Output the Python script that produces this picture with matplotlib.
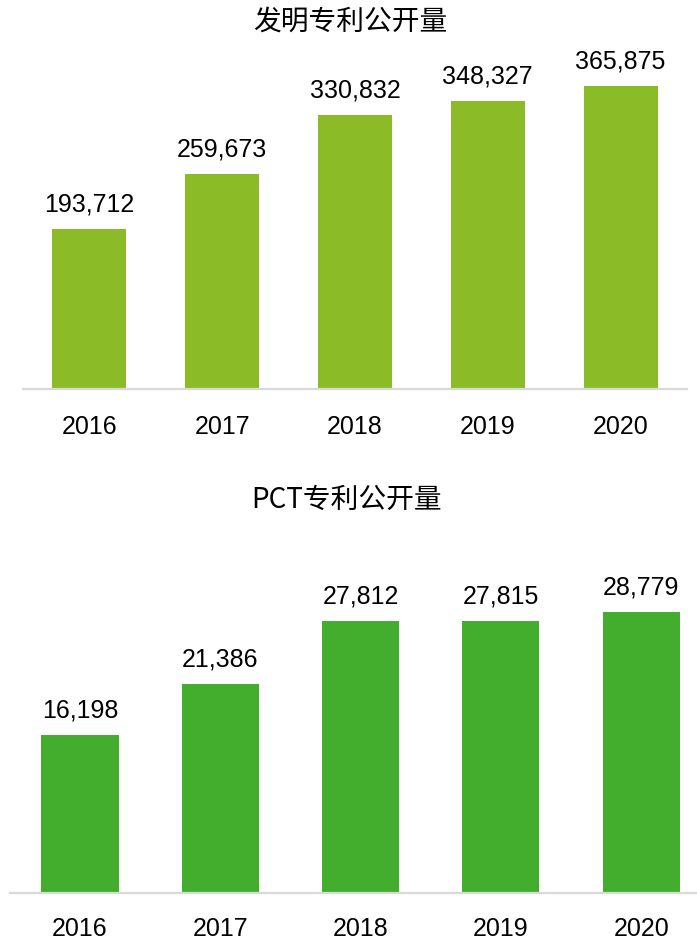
import matplotlib
matplotlib.use("Agg")
import matplotlib.pyplot as plt

plt.rcParams['font.family'] = ['Noto Sans CJK SC', 'DejaVu Sans']

years = ["2016", "2017", "2018", "2019", "2020"]
invention_counts = [193712, 259673, 330832, 348327, 365875]
pct_counts = [16198, 21386, 27812, 27815, 28779]

invention_title = "发明专利公开量"
pct_title = "PCT专利公开量"

W, H = 697, 942
fig = plt.figure(figsize=(W / 100, H / 100), dpi=100)
fig.patch.set_facecolor("white")

num_font = ["Liberation Sans", "DejaVu Sans"]


def px_axes(left, right, top, bottom):
    return fig.add_axes([left / W, 1 - bottom / H, (right - left) / W, (bottom - top) / H])


def draw_panel(ax, values, color, ymax, width, label_pad, tick_pad):
    x = range(len(years))
    ax.bar(x, values, width=width, color=color, zorder=2)
    ax.set_xlim(-0.5, len(years) - 0.5)
    ax.set_ylim(0, ymax)
    for s in ["top", "right", "left"]:
        ax.spines[s].set_visible(False)
    ax.spines["bottom"].set_color("#D9D9D9")
    ax.spines["bottom"].set_linewidth(1.6)
    ax.set_yticks([])
    ax.set_xticks(list(x))
    ax.set_xticklabels(years, fontsize=18, family=num_font)
    ax.tick_params(axis="x", length=0, pad=tick_pad)
    for xi, v in zip(x, values):
        ax.annotate(f"{v:,}", (xi, v), xytext=(0, label_pad), textcoords="offset points",
                    ha="center", va="bottom", fontsize=18, family=num_font)


ax1 = px_axes(23, 687, 58, 389)
draw_panel(ax1, invention_counts, "#8BBC28", 400000, 0.557, 9, 19)
fig.text(350 / W, 1 - 22 / H, invention_title, ha="center", va="center", fontsize=20)

ax2 = px_axes(9.8, 711.3, 551, 893)
draw_panel(ax2, pct_counts, "#43AD2E", 35000, 0.55, 9, 17.5)
fig.text(347 / W, 1 - 500 / H, pct_title, ha="center", va="center", fontsize=20)

fig.savefig("out.png", dpi=100, facecolor="white")
